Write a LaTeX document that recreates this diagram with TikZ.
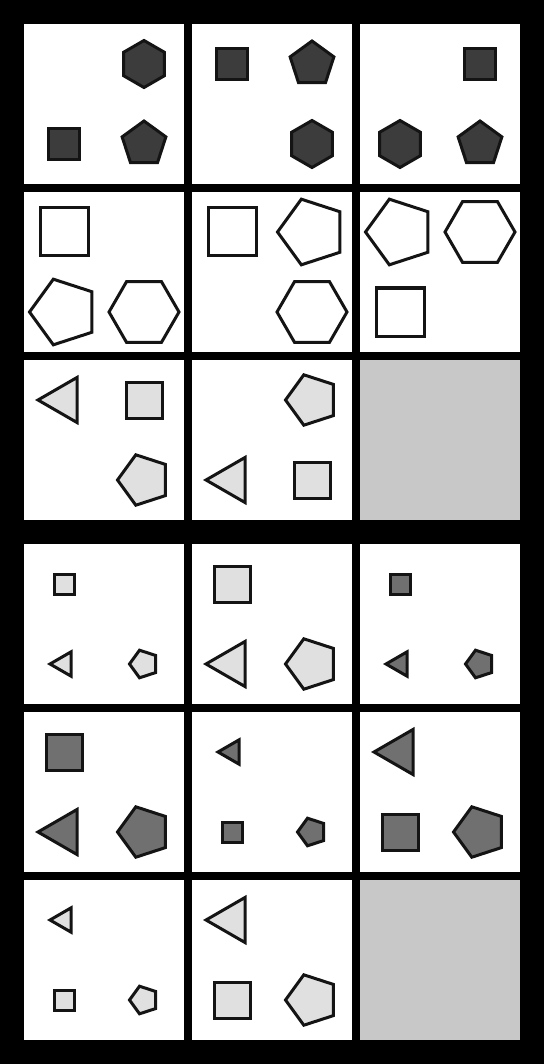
\documentclass[tikz,border=0pt]{standalone}
\usepackage{tikz}
\usetikzlibrary{shapes.geometric, positioning}

\definecolor{darkfill}{HTML}{3C3C3C}
\definecolor{midfill}{HTML}{707070}
\definecolor{lightfill}{HTML}{E0E0E0}
\definecolor{blankcell}{HTML}{C8C8C8}
\definecolor{edge}{HTML}{141414}

\begin{document}
\begin{tikzpicture}[x=1pt, y=-1pt, line width=3pt,
    cell/.style={fill=white, minimum size=160pt, inner sep=0pt},
    blank/.style={fill=blankcell, minimum size=160pt, inner sep=0pt},
    sq/.style={draw=edge, rectangle, inner sep=0pt, minimum size=#1},
    hexa/.style={draw=edge, regular polygon, regular polygon sides=6, inner sep=0pt, minimum size=#1},
    hexup/.style={hexa=#1, shape border rotate=90},
    pent/.style={draw=edge, regular polygon, regular polygon sides=5, inner sep=0pt, minimum size=#1},
    pentl/.style={pent=#1, shape border rotate=90},
    tri/.style={draw=edge, regular polygon, regular polygon sides=3, shape border rotate=90, inner sep=0pt, minimum size=#1}]

    % Nền đen và các ô
    \fill[black] (0,0) rectangle (544,1064);
    \node[cell] (c11) at (104,104) {};
    \node[cell] (c12) at (272,104) {};
    \node[cell] (c13) at (440,104) {};
    \node[cell] (c21) at (104,272) {};
    \node[cell] (c22) at (272,272) {};
    \node[cell] (c23) at (440,272) {};
    \node[cell] (c31) at (104,440) {};
    \node[cell] (c32) at (272,440) {};
    \node[blank] (c33) at (440,440) {};
    \node[cell] (c41) at (104,624) {};
    \node[cell] (c42) at (272,624) {};
    \node[cell] (c43) at (440,624) {};
    \node[cell] (c51) at (104,792) {};
    \node[cell] (c52) at (272,792) {};
    \node[cell] (c53) at (440,792) {};
    \node[cell] (c61) at (104,960) {};
    \node[cell] (c62) at (272,960) {};
    \node[blank] (c63) at (440,960) {};

    % Hàng 1: hình xám đậm
    \node[hexup=47, fill=darkfill] (hex11) at (144,64) {};
    \node[sq=31, fill=darkfill]    (sq11)  at (64,144) {};
    \node[pent=46, fill=darkfill]  (pen11) at (144,144) {};
    \node[sq=31, fill=darkfill]    (sq12)  at (232,64) {};
    \node[pent=46, fill=darkfill]  (pen12) at (312,64) {};
    \node[hexup=47, fill=darkfill] (hex12) at (312,144) {};
    \node[sq=31, fill=darkfill]    (sq13)  at (480,64) {};
    \node[hexup=47, fill=darkfill] (hex13) at (400,144) {};
    \node[pent=46, fill=darkfill]  (pen13) at (480,144) {};

    % Hàng 2: hình trắng lớn
    \node[sq=48, fill=white]   (sq21)  at (64,232) {};
    \node[pentl=69, fill=white] (pen21) at (64,312) {};
    \node[hexa=70, fill=white] (hex21) at (144,312) {};
    \node[sq=48, fill=white]   (sq22)  at (232,232) {};
    \node[pentl=69, fill=white] (pen22) at (312,232) {};
    \node[hexa=70, fill=white] (hex22) at (312,312) {};
    \node[pentl=69, fill=white] (pen23) at (400,232) {};
    \node[hexa=70, fill=white] (hex23) at (480,232) {};
    \node[sq=48, fill=white]   (sq23)  at (400,312) {};

    % Hàng 3: hình xám nhạt
    \node[tri=52, fill=lightfill]   (tri31) at (64,400) {};
    \node[sq=36, fill=lightfill]    (sq31)  at (144,400) {};
    \node[pentl=53, fill=lightfill] (pen31) at (144,480) {};
    \node[pentl=53, fill=lightfill] (pen32) at (312,400) {};
    \node[tri=52, fill=lightfill]   (tri32) at (232,480) {};
    \node[sq=36, fill=lightfill]    (sq32)  at (312,480) {};

    % Hàng 4
    \node[sq=20, fill=lightfill]    (sq41)  at (64,584) {};
    \node[tri=28, fill=lightfill]   (tri41) at (64,664) {};
    \node[pentl=29, fill=lightfill] (pen41) at (144,664) {};
    \node[sq=36, fill=lightfill]    (sq42)  at (232,584) {};
    \node[tri=52, fill=lightfill]   (tri42) at (232,664) {};
    \node[pentl=53, fill=lightfill] (pen42) at (312,664) {};
    \node[sq=20, fill=midfill]      (sq43)  at (400,584) {};
    \node[tri=28, fill=midfill]     (tri43) at (400,664) {};
    \node[pentl=29, fill=midfill]   (pen43) at (480,664) {};

    % Hàng 5
    \node[sq=36, fill=midfill]      (sq51)  at (64,752) {};
    \node[tri=52, fill=midfill]     (tri51) at (64,832) {};
    \node[pentl=53, fill=midfill]   (pen51) at (144,832) {};
    \node[tri=28, fill=midfill]     (tri52) at (232,752) {};
    \node[sq=20, fill=midfill]      (sq52)  at (232,832) {};
    \node[pentl=29, fill=midfill]   (pen52) at (312,832) {};
    \node[tri=52, fill=midfill]     (tri53) at (400,752) {};
    \node[sq=36, fill=midfill]      (sq53)  at (400,832) {};
    \node[pentl=53, fill=midfill]   (pen53) at (480,832) {};

    % Hàng 6
    \node[tri=28, fill=lightfill]   (tri61) at (64,920) {};
    \node[sq=20, fill=lightfill]    (sq61)  at (64,1000) {};
    \node[pentl=29, fill=lightfill] (pen61) at (144,1000) {};
    \node[tri=52, fill=lightfill]   (tri62) at (232,920) {};
    \node[sq=36, fill=lightfill]    (sq62)  at (232,1000) {};
    \node[pentl=53, fill=lightfill] (pen62) at (312,1000) {};
\end{tikzpicture}
\end{document}
